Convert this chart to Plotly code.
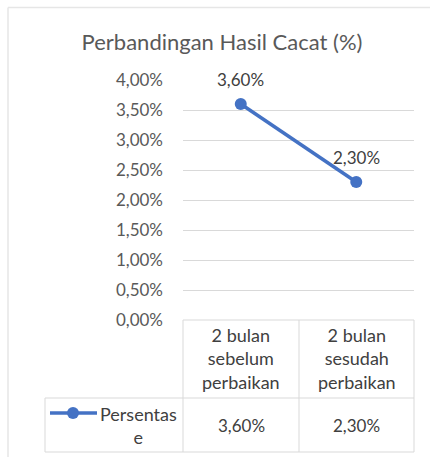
import plotly.graph_objects as go

categories = ["2 bulan<br>sebelum<br>perbaikan", "2 bulan<br>sesudah<br>perbaikan"]
values = [0.036, 0.023]
value_labels = ["3,60%", "2,30%"]
series_name = "Persentas<br>e"
title_text = "Perbandingan Hasil Cacat (%)"

W, H = 430, 457
L, R, T, B = 183, 414, 80, 320
FONT = "Lato"
BLUE = "#4472C4"
GRID = "#d9d9d9"
TXT = "#595959"
TXT2 = "#404040"

def px(x):
    return (x - L) / (R - L)

def py(y):
    return (B - y) / (B - T)

xs = list(range(len(categories)))

fig = go.Figure()
fig.add_trace(go.Scatter(
    x=xs, y=values, mode="lines+markers",
    line=dict(color=BLUE, width=3.5),
    marker=dict(color=BLUE, size=12),
    showlegend=False, hoverinfo="skip", cliponaxis=False,
))

annotations = []
for x, v, lab in zip(xs, values, value_labels):
    annotations.append(dict(x=x, y=v, xref="x", yref="y", text=lab, showarrow=False,
                            xanchor="center", yanchor="middle",
                            yshift=25, font=dict(family=FONT, size=17, color=TXT2)))

# table geometry
tab_left, tab_mid, tab_hdr_bot, tab_bot = 45, 299, 398, 452
col_edges = [L, tab_mid, R]
shapes = []
line_style = dict(color=GRID, width=1)
shapes.append(dict(type="line", xref="paper", yref="paper", x0=px(L), x1=px(R), y0=py(B), y1=py(B), line=line_style))
shapes.append(dict(type="line", xref="paper", yref="paper", x0=px(tab_left), x1=px(R), y0=py(tab_hdr_bot), y1=py(tab_hdr_bot), line=line_style))
shapes.append(dict(type="line", xref="paper", yref="paper", x0=px(tab_left), x1=px(R), y0=py(tab_bot), y1=py(tab_bot), line=line_style))
for xe in col_edges:
    shapes.append(dict(type="line", xref="paper", yref="paper", x0=px(xe), x1=px(xe), y0=py(B), y1=py(tab_bot), line=line_style))
shapes.append(dict(type="line", xref="paper", yref="paper", x0=px(tab_left), x1=px(tab_left), y0=py(tab_hdr_bot), y1=py(tab_bot), line=line_style))
# outer chart border
shapes.append(dict(type="line", xref="paper", yref="paper", x0=px(8), x1=px(432), y0=py(7.5), y1=py(7.5), line=dict(color="#e6e6e6", width=1.5)))
shapes.append(dict(type="line", xref="paper", yref="paper", x0=px(8), x1=px(8), y0=py(7.5), y1=py(460), line=dict(color="#e6e6e6", width=1.5)))
# legend key
shapes.append(dict(type="line", xref="paper", yref="paper", x0=px(50), x1=px(97), y0=py(413), y1=py(413), line=dict(color=BLUE, width=3.5)))
shapes.append(dict(type="circle", xref="paper", yref="paper", x0=px(67), x1=px(79), y0=py(407), y1=py(419), fillcolor=BLUE, line=dict(color=BLUE, width=0)))

for i, cat in enumerate(categories):
    cx = (col_edges[i] + col_edges[i + 1]) / 2
    annotations.append(dict(x=px(cx), y=py(358), xref="paper", yref="paper", text=cat, showarrow=False,
                            xanchor="center", yanchor="middle",
                            font=dict(family=FONT, size=18, color=TXT2), align="center"))
    annotations.append(dict(x=px(cx), y=py(425), xref="paper", yref="paper", text=value_labels[i], showarrow=False,
                            xanchor="center", yanchor="middle",
                            font=dict(family=FONT, size=17, color=TXT2), align="center"))
annotations.append(dict(x=px(138), y=py(425), xref="paper", yref="paper", text=series_name, showarrow=False,
                        xanchor="center", yanchor="middle",
                        font=dict(family=FONT, size=18, color=TXT2), align="center"))

fig.update_layout(
    width=W, height=H,
    margin=dict(l=L, r=W - R, t=T, b=H - B),
    paper_bgcolor="white", plot_bgcolor="white",
    separators=",.",
    title=dict(text=title_text, x=222 / W, xanchor="center", y=1 - 42 / H, yanchor="middle",
               xref="container", yref="container",
               font=dict(family=FONT, size=22, color=TXT)),
    xaxis=dict(range=[-0.5, 1.5], showticklabels=False, showgrid=False, zeroline=False,
               showline=False, fixedrange=True),
    yaxis=dict(range=[0, 0.04], dtick=0.005, tickformat=".2%", showgrid=True, gridcolor=GRID,
               gridwidth=1, zeroline=False, showline=False, ticks="", ticklabelstandoff=19,
               tickfont=dict(family=FONT, size=17, color=TXT), fixedrange=True),
    shapes=shapes, annotations=annotations,
)

fig.write_html("out.html", config={"displayModeBar": False, "staticPlot": True},
               post_script="document.body.style.margin='0';document.body.style.overflow='hidden';")
